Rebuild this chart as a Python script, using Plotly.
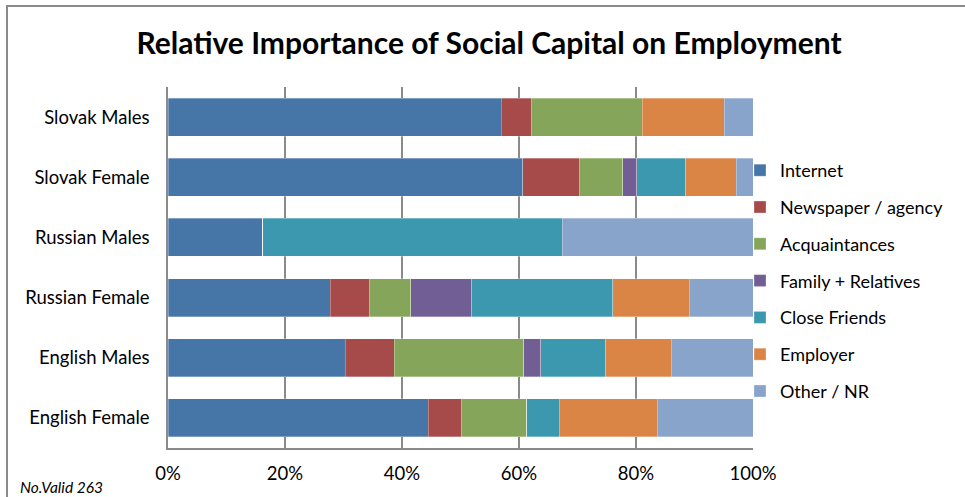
import plotly.graph_objects as go

categories = ["Slovak Males", "Slovak Female", "Russian Males", "Russian Female", "English Males", "English Female"]
series_names = ["Internet", "Newspaper / agency", "Acquaintances", "Family + Relatives", "Close Friends", "Employer", "Other / NR"]
internet = [57.0, 60.6, 16.2, 27.7, 30.3, 44.5]
newspaper = [5.1, 9.8, 0.0, 6.8, 8.4, 5.6]
acquaintances = [19.0, 7.3, 0.0, 7.0, 22.1, 11.2]
family = [0.0, 2.4, 0.0, 10.4, 2.9, 0.0]
close_friends = [0.0, 8.4, 51.2, 24.1, 11.1, 5.6]
employer = [14.0, 8.6, 0.0, 13.1, 11.2, 16.7]
other = [4.9, 2.9, 32.6, 10.9, 14.0, 16.4]
tick_vals = [0, 20, 40, 60, 80, 100]
tick_text = ["0%", "20%", "40%", "60%", "80%", "100%"]

colors = ["#4675A8", "#A64A4A", "#84A55A", "#715E94", "#3C98AE", "#DA8445", "#88A4CB"]
values = [internet, newspaper, acquaintances, family, close_friends, employer, other]

W, H = 965, 497
L, R, T, B = 168, 753, 87, 448

fig = go.Figure()
for name, vals, col in zip(series_names, values, colors):
    fig.add_trace(go.Bar(
        y=categories, x=vals, name=name, orientation="h",
        marker=dict(color=col, line=dict(color="rgba(255,255,255,0.5)", width=0.6)),
        legendgroup=name,
    ))

def px(x):
    return (x - L) / (R - L)

def py(y):
    return (B - y) / (B - T)

fig.update_layout(
    width=W, height=H,
    margin=dict(l=L, r=W - R, t=T, b=H - B, autoexpand=False),
    barmode="stack", bargap=0.37,
    plot_bgcolor="white", paper_bgcolor="white",
    font=dict(family="Lato, Open Sans, sans-serif", size=18, color="black"),
    title=dict(text="<b>Relative Importance of Social Capital on Employment</b>",
               x=489 / W, xanchor="center", y=1 - 43 / H, yanchor="middle",
               font=dict(size=30, color="black")),
    xaxis=dict(range=[0, 100], tickvals=tick_vals, ticktext=tick_text,
               showgrid=True, gridcolor="#8A8A8A", gridwidth=1.5,
               showline=True, linecolor="#8A8A8A", linewidth=1.5,
               ticks="", tickfont=dict(size=18.5), ticklabelstandoff=8,
               zeroline=False, automargin=False),
    yaxis=dict(autorange="reversed", showline=True, linecolor="#8A8A8A", linewidth=1.5,
               ticks="", tickfont=dict(size=18.5), ticklabelstandoff=13, showgrid=False,
               automargin=False),
    legend=dict(x=px(740), y=py(152), xanchor="left", yanchor="top",
                traceorder="grouped", tracegroupgap=10.4,
                font=dict(size=18), itemwidth=30, bgcolor="rgba(0,0,0,0)"),
    showlegend=True,
)

fig.add_shape(type="rect", xref="paper", yref="paper",
              x0=px(7), x1=px(990), y0=py(6), y1=py(520),
              line=dict(color="#8A8A8A", width=2), fillcolor="rgba(0,0,0,0)", layer="below")

fig.add_annotation(text="<i>No.Valid 263</i>", xref="paper", yref="paper",
                   x=px(18), y=py(487), xanchor="left", yanchor="middle",
                   showarrow=False, font=dict(size=15.5, color="black"))

fig.write_html("out.html", config={"displayModeBar": False},
               post_script="document.body.style.margin='0px';document.body.style.overflow='hidden';")
